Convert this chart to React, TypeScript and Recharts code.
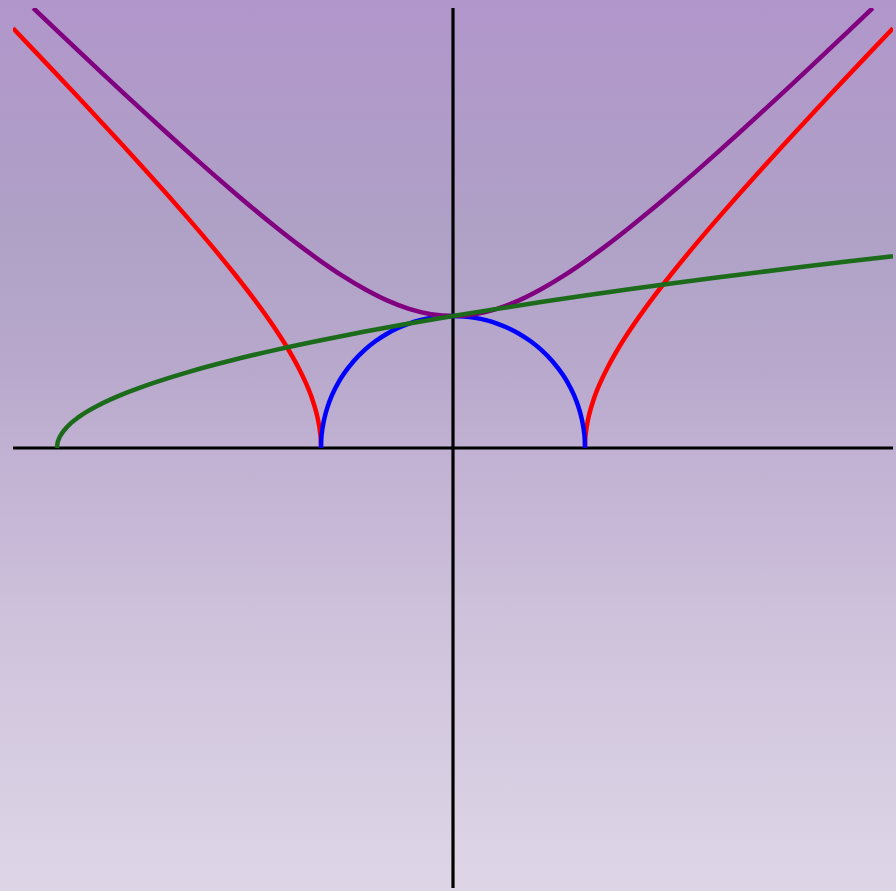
import { LineChart, Line, XAxis, YAxis, ReferenceLine } from "recharts";

// r = 3 for every curve, axes run -10..10
const blueX = [-3, -2.995, -2.98, -2.95, -2.9, -2.85, -2.75, -2.6, -2.5, -2.25, -2, -1.75, -1.5, -1.25, -1, -0.75, -0.5, -0.25, 0, 0.25, 0.5, 0.75, 1, 1.25, 1.5, 1.75, 2, 2.25, 2.5, 2.6, 2.75, 2.85, 2.9, 2.95, 2.98, 2.995, 3];
const blueY = [0, 0.173, 0.346, 0.545, 0.768, 0.937, 1.199, 1.497, 1.658, 1.984, 2.236, 2.437, 2.598, 2.727, 2.828, 2.905, 2.958, 2.99, 3, 2.99, 2.958, 2.905, 2.828, 2.727, 2.598, 2.437, 2.236, 1.984, 1.658, 1.497, 1.199, 0.937, 0.768, 0.545, 0.346, 0.173, 0];

const redX = [3, 3.005, 3.02, 3.05, 3.1, 3.2, 3.35, 3.5, 3.75, 4, 4.5, 5, 5.5, 6, 6.5, 7, 7.5, 8, 8.5, 9, 9.5, 10];
const redY = [0, 0.173, 0.347, 0.55, 0.781, 1.114, 1.491, 1.803, 2.25, 2.646, 3.354, 4, 4.61, 5.196, 5.766, 6.325, 6.874, 7.416, 7.953, 8.485, 9.014, 9.539];

const purpleX = [-9.54, -9, -8.5, -8, -7.5, -7, -6.5, -6, -5.5, -5, -4.5, -4, -3.5, -3, -2.5, -2, -1.5, -1, -0.5, 0, 0.5, 1, 1.5, 2, 2.5, 3, 3.5, 4, 4.5, 5, 5.5, 6, 6.5, 7, 7.5, 8, 8.5, 9, 9.54];
const purpleY = [10, 9.487, 9.014, 8.544, 8.078, 7.616, 7.159, 6.708, 6.265, 5.831, 5.408, 5, 4.61, 4.243, 3.905, 3.606, 3.354, 3.162, 3.041, 3, 3.041, 3.162, 3.354, 3.606, 3.905, 4.243, 4.61, 5, 5.408, 5.831, 6.265, 6.708, 7.159, 7.616, 8.078, 8.544, 9.014, 9.487, 10];

const greenX = [-9, -8.99, -8.96, -8.9, -8.75, -8.5, -8, -7.5, -7, -6, -5, -4, -3, -2, -1, 0, 1, 2, 3, 4, 5, 6, 7, 8, 9, 10];
const greenY = [0, 0.1, 0.2, 0.316, 0.5, 0.707, 1, 1.225, 1.414, 1.732, 2, 2.236, 2.449, 2.646, 2.828, 3, 3.162, 3.317, 3.464, 3.606, 3.742, 3.873, 4, 4.123, 4.243, 4.359];

const toPoints = (xs: number[], ys: number[]) => xs.map((x, i) => ({ x, y: ys[i] }));

const blueData = toPoints(blueX, blueY);
const redRightData = toPoints(redX, redY);
const redLeftData = toPoints(redX.map((x) => -x).reverse(), [...redY].reverse());
const purpleData = toPoints(purpleX, purpleY);
const greenData = toPoints(greenX, greenY);

const App = () => {
  return (
    <div
      style={{
        position: "fixed",
        left: 0,
        top: 0,
        width: 896,
        height: 891,
        background:
          "linear-gradient(to bottom, #b196cb 0%, #afa0c6 25%, #b6a7cb 39%, #c2b2d3 52%, #cfc3dc 71%, #ded6e7 100%)",
      }}
    >
      <LineChart width={896} height={891} margin={{ top: 8, right: 3, bottom: 3, left: 13 }}>
        <XAxis type="number" dataKey="x" domain={[-10, 10]} hide allowDataOverflow />
        <YAxis type="number" dataKey="y" domain={[-10, 10]} hide allowDataOverflow />
        <ReferenceLine y={0} stroke="#000" strokeWidth={3.2} />
        <ReferenceLine x={0} stroke="#000" strokeWidth={3.2} />
        <Line data={redLeftData} dataKey="y" type="monotone" stroke="#ff0000" strokeWidth={4.5} dot={false} isAnimationActive={false} />
        <Line data={redRightData} dataKey="y" type="monotone" stroke="#ff0000" strokeWidth={4.5} dot={false} isAnimationActive={false} />
        <Line data={blueData} dataKey="y" type="monotone" stroke="#0000ff" strokeWidth={4.5} dot={false} isAnimationActive={false} />
        <Line data={purpleData} dataKey="y" type="monotone" stroke="#800080" strokeWidth={4.5} dot={false} isAnimationActive={false} />
        <Line data={greenData} dataKey="y" type="monotone" stroke="#1b6b1b" strokeWidth={4.5} dot={false} isAnimationActive={false} />
      </LineChart>
    </div>
  );
};

export default App;
